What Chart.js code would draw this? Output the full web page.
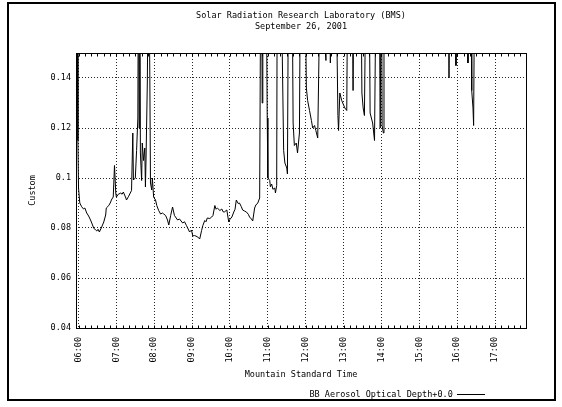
<!DOCTYPE html>
<html><head><meta charset="utf-8">
<script src="https://cdn.jsdelivr.net/npm/chart.js@4"></script>
<style>html,body{margin:0;padding:0;background:#fff;}canvas{display:block;}</style>
</head><body>
<canvas id="c" width="562" height="407"></canvas>
<script>
// Time in minutes after midnight (MST); values of BB aerosol optical depth
const minutesMST = [
  356,357,358,359,360,362,365,368,370,373,
  376,379,381,384,387,389,391,393,396,400,
  403,404,408,411,412,415,417,419,420,423,
  427,429,431,435,436,439,442,444,446,447,
  450,452,454,455,456,457,458,460,461,463,
  465,466,467,468,469,471,473,474,476,477,
  479,482,484,487,490,493,495,498,501,503,
  506,509,512,517,520,525,528,531,536,539,
  541,544,549,552,555,557,560,562,564,568,
  571,573,576,578,580,584,587,589,591,595,
  598,600,603,606,608,610,613,615,618,620,
  623,626,629,631,634,636,639,641,644,647,
  649,650,651,652,657,659,660,663,664,666,
  668,671,672,674,675,680,685,687,690,691,
  693,698,700,702,705,707,710,712,718,721,
  723,726,729,731,734,736,739,744,752,753,
  758,759,761,767,771,772,774,777,782,785,
  787,793,795,797,807,809,811,813,816,820,
  822,824,826,829,832,836,838,840,841,843,
  844,945,947,949,957,958,960,976,977,979,
  982,983,985,986,988,1069
];
const aodValues = [
  0.2,0.129,0.2,0.115,0.096,0.090,0.0885,0.0876,0.088,0.086,
  0.0848,0.0832,0.082,0.080,0.0792,0.0788,0.0795,0.0784,0.080,0.0824,
  0.0852,0.088,0.089,0.0904,0.0912,0.0924,0.105,0.094,0.0924,0.0935,
  0.094,0.0935,0.0944,0.092,0.0912,0.0925,0.094,0.095,0.118,0.0992,
  0.100,0.111,0.124,0.2,0.12,0.2,0.11,0.099,0.114,0.107,
  0.112,0.0964,0.108,0.108,0.138,0.2,0.14,0.098,0.0952,0.100,
  0.0924,0.0912,0.089,0.087,0.0856,0.086,0.0856,0.085,0.0832,0.0812,
  0.085,0.0884,0.085,0.0832,0.0836,0.082,0.0825,0.081,0.0784,0.0792,
  0.0768,0.077,0.0764,0.0756,0.079,0.081,0.083,0.0825,0.084,0.0838,
  0.0844,0.085,0.089,0.0875,0.088,0.087,0.0876,0.0865,0.0864,0.0872,
  0.0824,0.0835,0.0844,0.0864,0.0875,0.0912,0.0898,0.090,0.0885,0.0872,
  0.0868,0.0864,0.0855,0.0844,0.0836,0.0828,0.088,0.0892,0.090,0.092,
  0.2,0.2,0.13,0.2,0.2,0.124,0.100,0.099,0.0965,0.0976,
  0.0955,0.096,0.094,0.097,0.2,0.2,0.111,0.106,0.104,0.1016,
  0.2,0.2,0.122,0.113,0.114,0.110,0.118,0.2,0.2,0.136,
  0.131,0.127,0.123,0.120,0.121,0.119,0.116,0.2,0.147,0.2,
  0.2,0.146,0.2,0.2,0.125,0.119,0.134,0.131,0.128,0.127,
  0.2,0.2,0.135,0.2,0.2,0.134,0.128,0.125,0.2,0.2,
  0.126,0.124,0.122,0.115,0.2,0.2,0.120,0.2,0.121,0.118,
  0.2,0.2,0.140,0.2,0.2,0.145,0.2,0.2,0.146,0.2,
  0.2,0.135,0.128,0.121,0.2,0.2
];
const hourTicks = [360,420,480,540,600,660,720,780,840,900,960,1020];
const hourLabels = ['06:00','07:00','08:00','09:00','10:00','11:00','12:00','13:00','14:00','15:00','16:00','17:00'];
const yTickValues = [0.04,0.06,0.08,0.1,0.12,0.14];
const yTickLabels = ['0.04','0.06','0.08','0.1','0.12','0.14'];
const titleLines = ['Solar Radiation Research Laboratory (BMS)','September 26, 2001'];
const seriesLabel = 'BB Aerosol Optical Depth+0.0';
const xTitle = 'Mountain Standard Time';
const yTitle = 'Custom';

const FONT = {family: "'DejaVu Sans Mono', monospace", size: 8.5, lineHeight: 1.2, weight: 'normal'};
Chart.defaults.color = '#000';
Chart.defaults.font = Object.assign({}, Chart.defaults.font, FONT);

const framePlugin = {
  id: 'frame',
  beforeDraw(chart) {
    const ctx = chart.ctx;
    ctx.save();
    ctx.fillStyle = '#fff';
    ctx.fillRect(0, 0, chart.width, chart.height);
    ctx.strokeStyle = '#000';
    ctx.lineWidth = 2;
    ctx.strokeRect(8, 3, 547, 397);
    ctx.restore();
  },
  afterDatasetsDraw(chart) {
    const {ctx, chartArea: a, scales: {x}} = chart;
    ctx.save();
    ctx.strokeStyle = '#000';
    ctx.lineWidth = 1;
    const l = Math.round(a.left) + 0.5, t = Math.round(a.top) + 0.5;
    const r = Math.round(a.right) + 0.5, b = Math.round(a.bottom) + 0.5;
    ctx.strokeRect(l, t, r - l, b - t);
    ctx.beginPath();
    for (let m = Math.ceil(x.min / 10) * 10; m <= x.max; m += 10) {
      const px = Math.round(x.getPixelForValue(m)) + 0.5;
      ctx.moveTo(px, t); ctx.lineTo(px, t + 3);
      ctx.moveTo(px, b); ctx.lineTo(px, b - 3);
    }
    ctx.stroke();
    ctx.restore();
  }
};

const legendPlacer = {
  id: 'legendPlacer',
  afterLayout(chart) {
    const lg = chart.legend;
    if (!lg) return;
    const w = lg.width, h = lg.height;
    lg.right = chart.chartArea.right - 36;
    lg.left = lg.right - w;
    lg.top = 385.25;
    lg.bottom = lg.top + h;
  }
};

const gridOpts = {color: 'rgba(0,0,0,0.85)', lineWidth: 1, drawTicks: false};

new Chart(document.getElementById('c'), {
  type: 'line',
  data: {
    datasets: [{
      label: seriesLabel,
      data: minutesMST.map((m, i) => ({x: m, y: aodValues[i]})),
      borderColor: '#000',
      backgroundColor: '#000',
      borderWidth: 1,
      pointRadius: 0,
      tension: 0,
      fill: false
    }]
  },
  options: {
    responsive: false,
    animation: false,
    devicePixelRatio: 1,
    layout: {padding: {left: 10, right: 36, top: 5, bottom: 2.5}},
    plugins: {
      title: {display: true, text: titleLines, fullSize: false, font: FONT, color: '#000', padding: {top: 6, bottom: 21.6}},
      legend: {display: true, position: 'bottom', fullSize: false, rtl: true, textDirection: 'ltr', align: 'start',
        labels: {boxWidth: 28, boxHeight: 0, padding: 5, font: FONT, color: '#000'}},
      tooltip: {enabled: false}
    },
    scales: {
      x: {
        type: 'linear', min: 356, max: 1069,
        afterBuildTicks: s => { s.ticks = hourTicks.map(v => ({value: v})); },
        afterFit: s => { s.height = 53; },
        ticks: {autoSkip: false, minRotation: 90, maxRotation: 90, padding: 9, font: FONT, color: '#000',
          callback: (v, i) => hourLabels[i]},
        grid: gridOpts,
        border: {display: false, dash: [1, 2]},
        title: {display: true, text: xTitle, font: FONT, color: '#000', padding: {top: 0, bottom: 1}}
      },
      y: {
        type: 'linear', min: 0.04, max: 0.15,
        afterBuildTicks: s => { s.ticks = yTickValues.map(v => ({value: v})); },
        afterFit: s => { s.width = 66; },
        ticks: {padding: 5, font: FONT, color: '#000', callback: (v, i) => yTickLabels[i]},
        grid: gridOpts,
        border: {display: false, dash: [1, 2]},
        title: {display: true, text: yTitle, font: FONT, color: '#000', padding: {top: 18, bottom: 0}}
      }
    }
  },
  plugins: [framePlugin, legendPlacer]
});
</script>
</body></html>
